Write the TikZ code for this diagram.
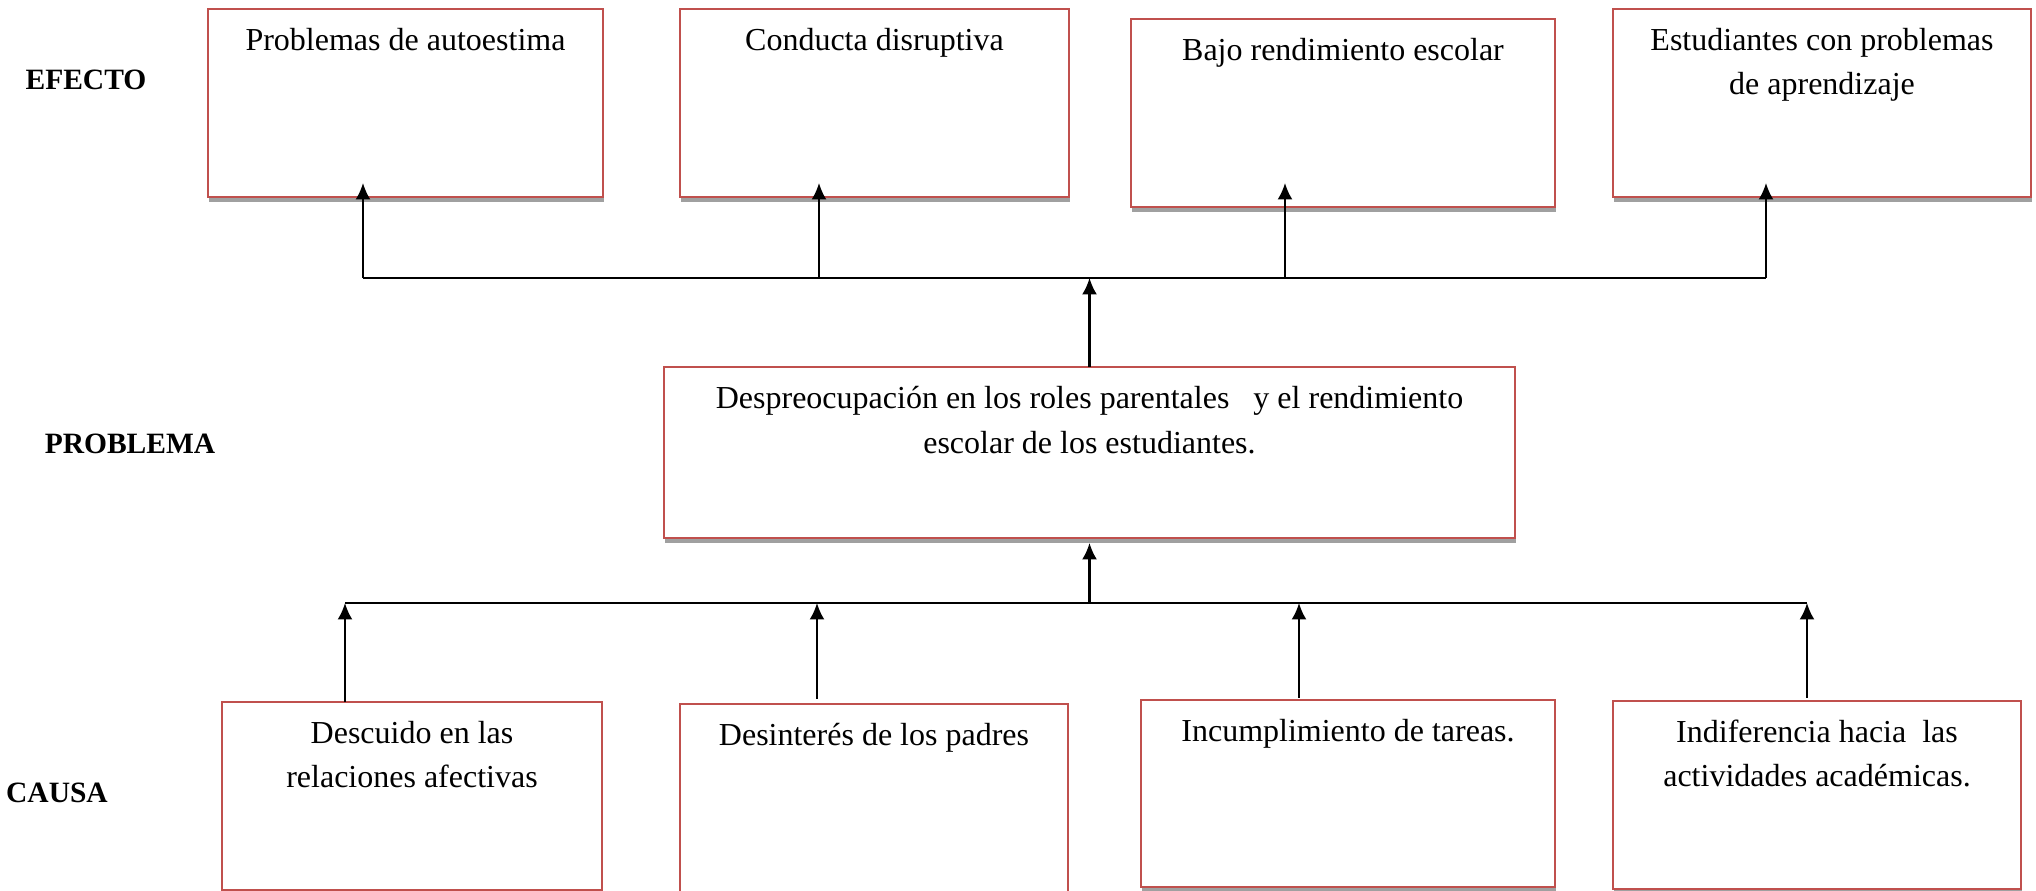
\documentclass[tikz,border=0pt]{standalone}
\usepackage{fontspec}
\setmainfont{Liberation Serif}
\usetikzlibrary{arrows.meta,shadows,calc}
\definecolor{boxred}{RGB}{192,80,77}
\definecolor{shadowgray}{RGB}{160,160,160}
\begin{document}
\begin{tikzpicture}[x=0.4pt,y=-0.4pt,
  box/.style={draw=boxred, line width=0.8pt, fill=white, inner sep=0pt, outer sep=0pt,
    anchor=north west,
    drop shadow={shadow xshift=0.3pt, shadow yshift=-1.9pt, fill=shadowgray, opacity=1}},
  txt/.style={anchor=north, yshift=-7.4pt, inner sep=0pt, align=center,
    font=\fontsize{12.8}{17.6}\selectfont},
  lab/.style={inner sep=0pt, font=\fontsize{11.8}{14}\selectfont\bfseries},
  conn/.style={line width=0.85pt, black},
  arr/.style={line width=0.85pt, black, -{Latex[length=6.6pt,width=6pt]}}]
\useasboundingbox (0,0) rectangle (2036,891);

% labels
\node[lab] (efecto) at (86,80) {EFECTO};
\node[lab] (problema) at (130,444) {PROBLEMA};
\node[lab] (causa) at (57,793) {CAUSA};

% effect boxes
\node[box, minimum width=158pt, minimum height=75.2pt,
  label={[txt]north:Problemas de autoestima}] (b1) at (208,9) {};
\node[box, minimum width=155.6pt, minimum height=75.2pt,
  label={[txt]north:Conducta disruptiva}] (b2) at (680,9) {};
\node[box, minimum width=169.6pt, minimum height=75.2pt,
  label={[txt]north:Bajo rendimiento escolar}] (b3) at (1131,19) {};
\node[box, minimum width=167.2pt, minimum height=75.2pt,
  label={[txt]north:Estudiantes con problemas\\de aprendizaje}] (b4) at (1613,9) {};

% problem box
\node[box, minimum width=340.4pt, minimum height=68.4pt,
  label={[txt, font=\fontsize{12.8}{18.2}\selectfont]north:Despreocupación en los roles parentales\ \ \ y el rendimiento\\escolar de los estudiantes.}] (p) at (664,367) {};

% cause boxes
\node[box, minimum width=152pt, minimum height=75.2pt,
  label={[txt]north:Descuido en las\\relaciones afectivas}] (c1) at (222,702) {};
\node[box, minimum width=155.2pt, minimum height=80pt,
  label={[txt]north:Desinterés de los padres}] (c2) at (680,704) {};
\node[box, minimum width=165.6pt, minimum height=74.8pt,
  label={[txt]north:Incumplimiento de tareas.}] (c3) at (1141,700) {};
\node[box, minimum width=163.2pt, minimum height=75.2pt,
  label={[txt]north:Indiferencia hacia\ \ las\\actividades académicas.}] (c4) at (1613,701) {};

% top bus
\coordinate (t1) at (363,278);
\coordinate (t2) at (819,278);
\coordinate (t3) at (1285,278);
\coordinate (t4) at (1766,278);
\draw[conn] (t1) -- (t4);
\draw[arr] (t1) -- ($(t1 |- b1.south)+(0,-14)$);
\draw[arr] (t2) -- ($(t2 |- b2.south)+(0,-14)$);
\draw[arr] (t3) -- ($(t3 |- b3.south)+(0,-24)$);
\draw[arr] (t4) -- ($(t4 |- b4.south)+(0,-14)$);
\draw[arr] (p.north) -- (p.north |- t1);

% bottom bus
\coordinate (u1) at (345,603);
\coordinate (u2) at (817,603);
\coordinate (u3) at (1299,603);
\coordinate (u4) at (1807,603);
\draw[conn] (u1) -- (u4);
\draw[arr] (p.south |- u1) -- ($(p.south)+(0,5)$);
\draw[arr] (u1 |- c1.north) -- (u1);
\draw[arr] ($(u2 |- c2.north)+(0,-5)$) -- (u2);
\draw[arr] ($(u3 |- c3.north)+(0,-2)$) -- (u3);
\draw[arr] ($(u4 |- c4.north)+(0,-3)$) -- (u4);
\end{tikzpicture}
\end{document}
